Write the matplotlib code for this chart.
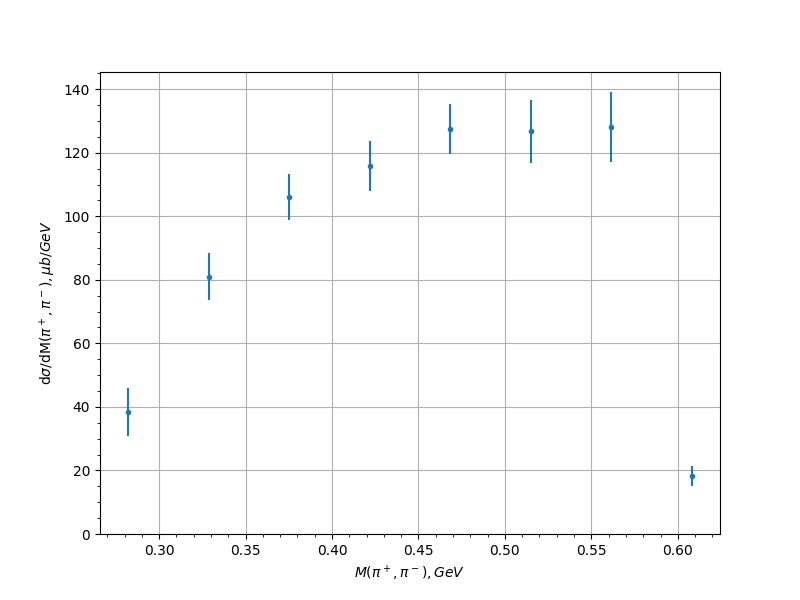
import matplotlib
matplotlib.use("Agg")
import matplotlib.pyplot as plt

# invariant mass bins (GeV) and cross section (mub/GeV)
mass = [0.2821, 0.3289, 0.3751, 0.4220, 0.4682, 0.5150, 0.5613, 0.6081]
dsigma = [38.4, 80.9, 106.0, 115.8, 127.5, 126.7, 128.2, 18.2]
err = [7.5, 7.4, 7.2, 7.9, 7.9, 9.9, 11.0, 3.2]

fig, ax = plt.subplots(figsize=(8, 6), dpi=100)
ax.errorbar(mass, dsigma, yerr=err, fmt=".")
ax.set_ylim(bottom=0)
ax.minorticks_on()
ax.grid(True, which="major")
ax.set_xlabel(r"$M(\pi^+, \pi^-), GeV$")
ax.set_ylabel(r"d$\sigma$/dM$(\pi^+, \pi^-), \mu b/GeV$")
plt.savefig("out.png", dpi=100)
